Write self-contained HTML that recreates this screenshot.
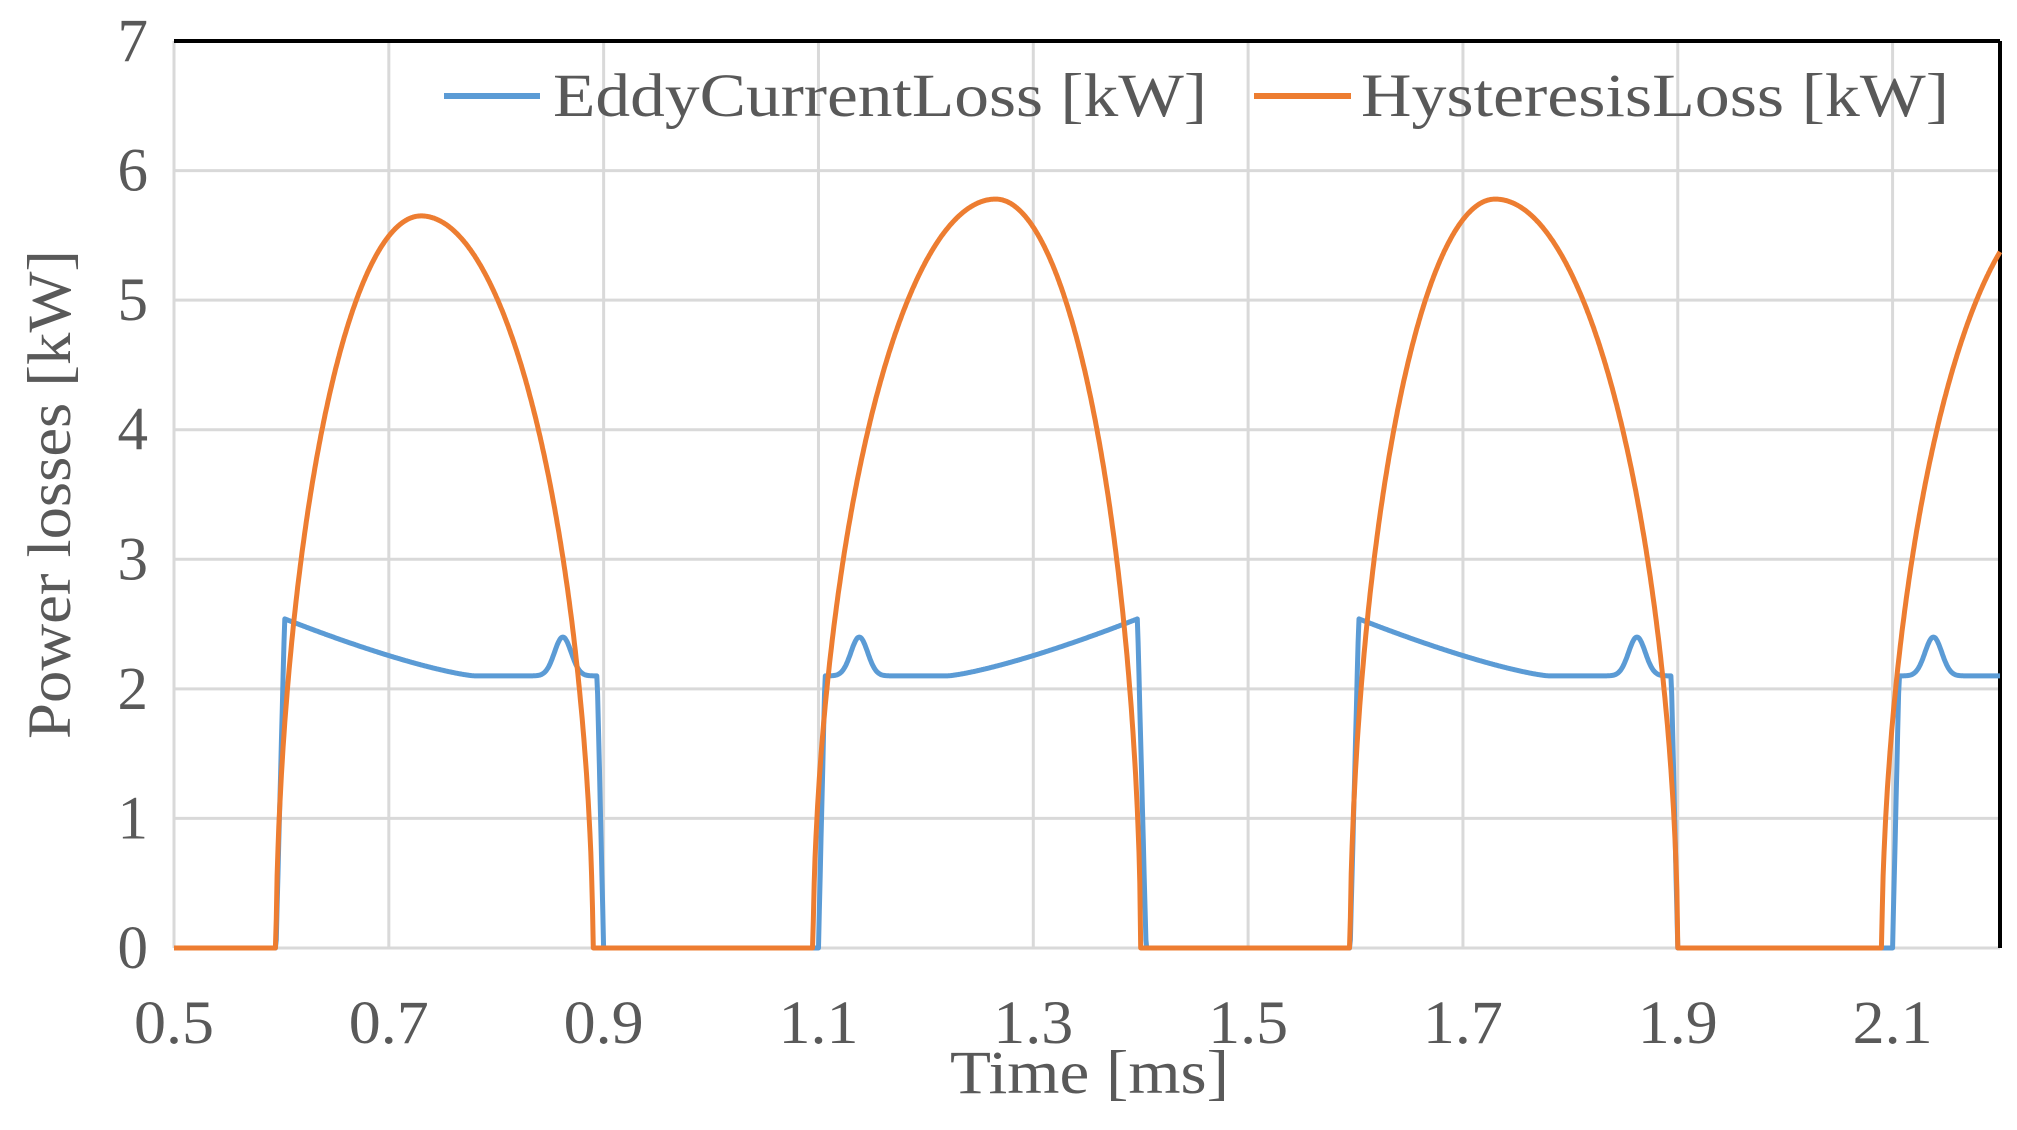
<!DOCTYPE html>
<html><head><meta charset="utf-8">
<style>
html,body{margin:0;padding:0;background:#fff;}
svg{display:block;}
text{font-family:"Liberation Serif",serif;fill:#595959;}
</style></head>
<body>
<svg id="c" width="2017" height="1130" viewBox="0 0 2017 1130" xmlns="http://www.w3.org/2000/svg">
<g id="grid" stroke="#d9d9d9" stroke-width="3"></g>
<line x1="174" y1="41" x2="2000" y2="41" stroke="#000" stroke-width="4"/>
<line x1="2000" y1="41" x2="2000" y2="948" stroke="#000" stroke-width="4"/>
<g id="labels" font-size="61"></g>
<path id="eddy" fill="none" stroke="#5B9BD5" stroke-width="5" stroke-linejoin="round"/>
<path id="hyst" fill="none" stroke="#ED7D31" stroke-width="5" stroke-linejoin="round"/>
<line x1="444" y1="96" x2="540" y2="96" stroke="#5B9BD5" stroke-width="6"/>
<text x="553" y="116" font-size="61" textLength="654" lengthAdjust="spacingAndGlyphs">EddyCurrentLoss [kW]</text>
<line x1="1254" y1="96" x2="1351" y2="96" stroke="#ED7D31" stroke-width="6"/>
<text x="1361" y="116" font-size="61" textLength="588" lengthAdjust="spacingAndGlyphs">HysteresisLoss [kW]</text>
<text x="950" y="1093" font-size="61" textLength="279" lengthAdjust="spacingAndGlyphs">Time [ms]</text>
<text transform="translate(70,495) rotate(-90)" font-size="61" x="-244" y="0" textLength="489" lengthAdjust="spacingAndGlyphs">Power losses [kW]</text>
</svg>
<script>
var L=174,R=2000,T=41,B=948;
function X(t){return L+(t-0.5)/1.7*(R-L);}
function Y(v){return B-v/7*(B-T);}
var ns="http://www.w3.org/2000/svg",g=document.getElementById('grid'),lb=document.getElementById('labels');
function el(p,tag,a,txt){var e=document.createElementNS(ns,tag);for(var k in a)e.setAttribute(k,a[k]);if(txt)e.textContent=txt;p.appendChild(e);}
for(var i=0;i<=7;i++){ if(i<7) el(g,'line',{x1:L,x2:R,y1:Y(i),y2:Y(i)}); el(lb,'text',{x:148,y:Y(i)+20,'text-anchor':'end'},String(i));}
for(var i=0;i<=8;i++){var t=0.5+i*0.2; el(g,'line',{x1:X(t),x2:X(t),y1:T,y2:B}); el(lb,'text',{x:X(t),y:1043,'text-anchor':'middle',textLength:80,lengthAdjust:'spacingAndGlyphs'},t.toFixed(1));}
el(g,'line',{x1:X(2.2),x2:X(2.2),y1:T,y2:B});
function eA(tp){
  if(tp<-0.005) return 0;
  if(tp<0.003) return 2.55*(tp+0.005)/0.008;
  if(tp>0.3) return 0;
  var base=2.1+0.45*Math.pow(Math.max(0,1-tp/0.18),1.3);
  var bump=0.3*Math.exp(-Math.pow((tp-0.262)/0.011,2));
  var v=base+bump;
  if(tp>0.294) v=v*(0.3-tp)/0.006;
  return v;
}
function eddy(t){
  var k=Math.floor((t-0.5)/0.5);
  var tt=t-0.5-k*0.5;
  var tp=tt-0.1;
  if(tp<-0.01||tp>0.305) return 0;
  if(k%2==0) return eA(tp);
  return eA(0.3-tp);
}
function arch(t,a,p,z,pk){
  if(t<=a||t>=z) return 0;
  var u=t<p?(p-t)/(p-a):(t-p)/(z-p);
  return pk*Math.pow(Math.max(0,1-u*u),0.55);
}
function hyst(t){
  return arch(t,0.595,0.73,0.89,5.65)+arch(t,1.095,1.265,1.4,5.78)+arch(t,1.595,1.73,1.9,5.78)+arch(t,2.09,2.26,2.395,5.78);
}
function path(f){var d='';for(var t=0.5;t<=2.2001;t+=0.0008){d+=(d?'L':'M')+X(t).toFixed(1)+','+Y(f(t)).toFixed(1);}return d;}
document.getElementById('eddy').setAttribute('d',path(eddy));
document.getElementById('hyst').setAttribute('d',path(hyst));
</script>
</body></html>
